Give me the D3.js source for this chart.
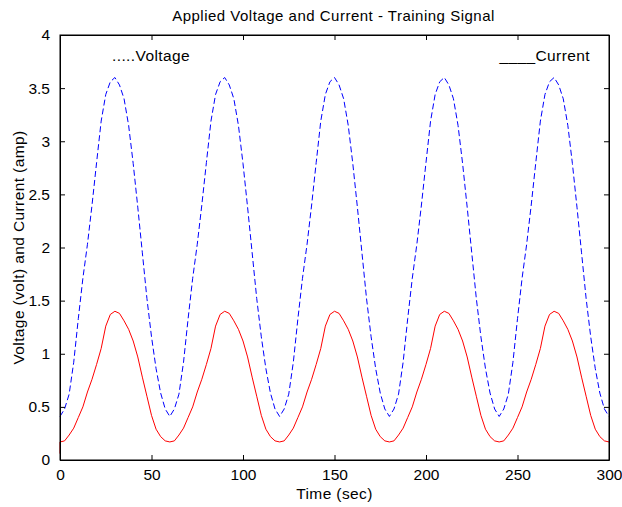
<!DOCTYPE html>
<html>
<head>
<meta charset="utf-8">
<script src="https://cdn.jsdelivr.net/npm/d3@7"></script>
<style>
  body { margin: 0; background: #fff; }
  svg { font-family: "Liberation Sans", Arial, sans-serif; }
</style>
</head>
<body>
<div class="chart"></div>
<script>
// sampled every 2.5 s, 0..300
const times = d3.range(0, 300.01, 2.5);
const voltage = [
  0.41, 0.48, 0.62, 0.92, 1.33, 1.71, 2.03, 2.40, 2.80, 3.19, 3.44, 3.56,
  3.60, 3.53, 3.40, 3.15, 2.79, 2.38, 1.95, 1.52, 1.16, 0.86, 0.63, 0.48,
  0.41, 0.48, 0.62, 0.92, 1.33, 1.71, 2.03, 2.40, 2.80, 3.19, 3.44, 3.56,
  3.60, 3.53, 3.40, 3.15, 2.79, 2.38, 1.95, 1.52, 1.16, 0.86, 0.63, 0.48,
  0.41, 0.48, 0.62, 0.92, 1.33, 1.71, 2.03, 2.40, 2.80, 3.19, 3.44, 3.56,
  3.60, 3.53, 3.40, 3.15, 2.79, 2.38, 1.95, 1.52, 1.16, 0.86, 0.63, 0.48,
  0.41, 0.48, 0.62, 0.92, 1.33, 1.71, 2.03, 2.40, 2.80, 3.19, 3.44, 3.56,
  3.60, 3.53, 3.40, 3.15, 2.79, 2.38, 1.95, 1.52, 1.16, 0.86, 0.63, 0.48,
  0.41, 0.48, 0.62, 0.92, 1.33, 1.71, 2.03, 2.40, 2.80, 3.19, 3.44, 3.56,
  3.60, 3.53, 3.40, 3.15, 2.79, 2.38, 1.95, 1.52, 1.16, 0.86, 0.63, 0.48,
  0.41
];
// first sample of current starts low (vertical jump at t=0)
const currentStart = 0.06;
const current = [
  0.17, 0.18, 0.235, 0.30, 0.40, 0.50, 0.64, 0.76, 0.90, 1.05, 1.26, 1.37,
  1.40, 1.38, 1.31, 1.23, 1.12, 0.97, 0.78, 0.60, 0.42, 0.29, 0.22, 0.18,
  0.17, 0.18, 0.235, 0.30, 0.40, 0.50, 0.64, 0.76, 0.90, 1.05, 1.26, 1.37,
  1.40, 1.38, 1.31, 1.23, 1.12, 0.97, 0.78, 0.60, 0.42, 0.29, 0.22, 0.18,
  0.17, 0.18, 0.235, 0.30, 0.40, 0.50, 0.64, 0.76, 0.90, 1.05, 1.26, 1.37,
  1.40, 1.38, 1.31, 1.23, 1.12, 0.97, 0.78, 0.60, 0.42, 0.29, 0.22, 0.18,
  0.17, 0.18, 0.235, 0.30, 0.40, 0.50, 0.64, 0.76, 0.90, 1.05, 1.26, 1.37,
  1.40, 1.38, 1.31, 1.23, 1.12, 0.97, 0.78, 0.60, 0.42, 0.29, 0.22, 0.18,
  0.17, 0.18, 0.235, 0.30, 0.40, 0.50, 0.64, 0.76, 0.90, 1.05, 1.26, 1.37,
  1.40, 1.38, 1.31, 1.23, 1.12, 0.97, 0.78, 0.60, 0.42, 0.29, 0.22, 0.18,
  0.17
];
const xTicks = [0, 50, 100, 150, 200, 250, 300];
const yTicks = [0, 0.5, 1, 1.5, 2, 2.5, 3, 3.5, 4];

const margin = { top: 35, right: 13, bottom: 47, left: 60 };
const W = 622, H = 507;
const width = W - margin.left - margin.right,
  height = H - margin.top - margin.bottom;

const svg = d3.select(".chart").append("svg")
  .attr("width", W).attr("height", H);
const g = svg.append("g")
  .attr("transform", `translate(${margin.left},${margin.top})`);

const x = d3.scaleLinear().domain([0, 300]).range([0, width]);
const y = d3.scaleLinear().domain([0, 4]).range([height, 0]);

const voltData = voltage.map((v, i) => [times[i], v]);
const currData = [[0, currentStart]].concat(current.map((v, i) => [times[i], v]));

const line = d3.line()
  .x(d => x(d[0]))
  .y(d => y(d[1]));

g.append("path").datum(voltData)
  .attr("fill", "none").attr("stroke", "#0000ff")
  .attr("stroke-width", 1).attr("stroke-dasharray", "6,3")
  .attr("d", line);

g.append("path").datum(currData)
  .attr("fill", "none").attr("stroke", "#ff0000")
  .attr("stroke-width", 1)
  .attr("d", line);

// axes, ticks inside like matlab
const tickLen = 5;
g.append("g").attr("transform", `translate(0,${height})`)
  .call(d3.axisBottom(x).tickValues(xTicks).tickSizeInner(-tickLen).tickSizeOuter(0).tickPadding(9));
g.append("g").call(d3.axisTop(x).tickValues(xTicks).tickSizeInner(-tickLen).tickSizeOuter(0).tickFormat(""));
g.append("g")
  .call(d3.axisLeft(y).tickValues(yTicks).tickSizeInner(-tickLen).tickSizeOuter(0).tickPadding(10).tickFormat(d3.format("")));
g.append("g").attr("transform", `translate(${width},0)`)
  .call(d3.axisRight(y).tickValues(yTicks).tickSizeInner(-tickLen).tickSizeOuter(0).tickFormat(""));

g.selectAll(".domain").attr("stroke", "#000");
g.selectAll(".tick line").attr("stroke", "#000");
g.selectAll(".tick text").attr("font-size", "15.5px").attr("fill", "#000")
  .style("font-family", "Liberation Sans, Arial, sans-serif");

g.append("rect").attr("width", width).attr("height", height)
  .attr("fill", "none").attr("stroke", "#000");

// title + labels
svg.append("text").attr("x", margin.left + width / 2 - 1).attr("y", 21)
  .attr("text-anchor", "middle").attr("font-size", "15px")
  .attr("letter-spacing", "0.5px")
  .text("Applied Voltage and Current - Training Signal");
svg.append("text").attr("x", margin.left + width / 2).attr("y", 499)
  .attr("text-anchor", "middle").attr("font-size", "15.5px")
  .attr("letter-spacing", "0.4px")
  .text("Time (sec)");
svg.append("text")
  .attr("transform", `translate(24,${margin.top + height / 2}) rotate(-90)`)
  .attr("text-anchor", "middle").attr("font-size", "15.5px")
  .attr("letter-spacing", "0.4px")
  .text("Voltage (volt) and Current (amp)");

// legend texts
svg.append("text").attr("x", 112).attr("y", 61).attr("font-size", "15.5px")
  .attr("letter-spacing", "0.4px")
  .text(".....Voltage");
svg.append("text").attr("x", 590).attr("y", 61).attr("text-anchor", "end")
  .attr("font-size", "15.5px").attr("letter-spacing", "0.4px")
  .text("____Current");
</script>
</body>
</html>
